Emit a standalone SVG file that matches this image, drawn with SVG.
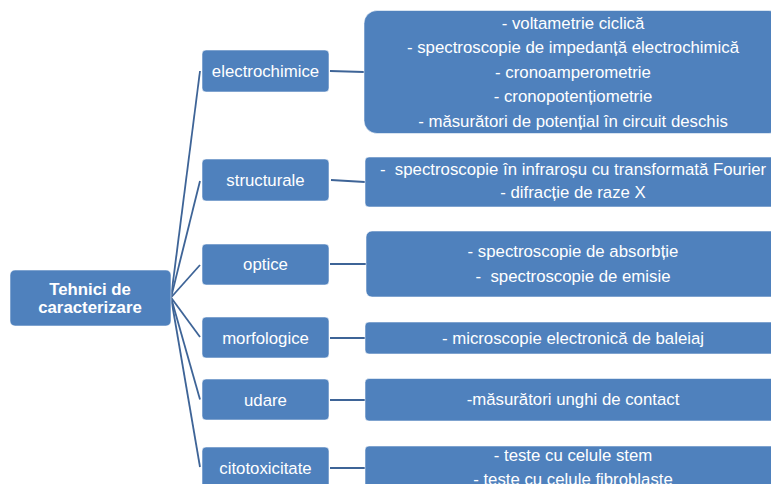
<svg xmlns="http://www.w3.org/2000/svg" width="771" height="484" viewBox="0 0 771 484">
<style>
.box{fill:#4F81BD;stroke:#FFFFFF;stroke-opacity:0.55;stroke-width:1}
.t{font-family:"Liberation Sans",Arial,sans-serif;font-size:16.8px;fill:#FFFFFF;text-anchor:middle}
.b{font-weight:bold}
.c{stroke:#3E6497;stroke-width:1.8;fill:none}
</style>
<rect width="771" height="484" fill="#FFFFFF"/>
<g id="connectors">
<path class="c" d="M171,297.5 L200,71"/>
<path class="c" d="M171,297.5 L200,181"/>
<path class="c" d="M171,297.5 L200,265"/>
<path class="c" d="M171,297.5 L200,337"/>
<path class="c" d="M171,297.5 L200,399.5"/>
<path class="c" d="M171,297.5 L200,467"/>
<path class="c" d="M330,71 L364,72"/>
<path class="c" d="M331,180 L365,182"/>
<path class="c" d="M330,264 L366,264"/>
<path class="c" d="M330,338 L365,338"/>
<path class="c" d="M330,400 L365,400"/>
<path class="c" d="M330,468 L365,468"/>
</g>
<g id="root">
<rect class="box" x="10" y="270" width="161" height="56" rx="5"/>
<text class="t b" x="90" y="295">Tehnici de</text>
<text class="t b" x="90" y="312.5">caracterizare</text>
</g>
<g id="electrochimice">
<rect class="box" x="202" y="50" width="127" height="42" rx="4"/>
<text class="t" x="265.5" y="76.5">electrochimice</text>
</g>
<g id="structurale">
<rect class="box" x="202" y="159" width="127" height="42" rx="4"/>
<text class="t" x="265.5" y="186">structurale</text>
</g>
<g id="optice">
<rect class="box" x="202" y="244" width="127" height="41" rx="4"/>
<text class="t" x="265.5" y="270">optice</text>
</g>
<g id="morfologice">
<rect class="box" x="202" y="317" width="127" height="41" rx="4"/>
<text class="t" x="265.5" y="343.5">morfologice</text>
</g>
<g id="udare">
<rect class="box" x="202" y="379" width="127" height="41" rx="4"/>
<text class="t" x="265.5" y="405.5">udare</text>
</g>
<g id="citotoxicitate">
<rect class="box" x="202" y="447" width="127" height="42" rx="4"/>
<text class="t" x="265.5" y="473.5">citotoxicitate</text>
</g>
<g id="electrochimice-detalii">
<rect class="box" x="364" y="10.5" width="418" height="123" rx="13"/>
<text class="t" x="573" y="28.5">- voltametrie ciclică</text>
<text class="t" x="573" y="53">- spectroscopie de impedanță electrochimică</text>
<text class="t" x="573" y="77.5">- cronoamperometrie</text>
<text class="t" x="573" y="102">- cronopotențiometrie</text>
<text class="t" x="573" y="126.5">- măsurători de potențial în circuit deschis</text>
</g>
<g id="structurale-detalii">
<rect class="box" x="365" y="157" width="417" height="50" rx="4"/>
<text class="t" x="573" y="175" xml:space="preserve">-  spectroscopie în infraroșu cu transformată Fourier</text>
<text class="t" x="573" y="198">- difracție de raze X</text>
</g>
<g id="optice-detalii">
<rect class="box" x="366" y="231" width="416" height="66" rx="6"/>
<text class="t" x="573" y="257" xml:space="preserve">- spectroscopie de absorbție</text>
<text class="t" x="573" y="282" xml:space="preserve">-  spectroscopie de emisie</text>
</g>
<g id="morfologice-detalii">
<rect class="box" x="365" y="322" width="417" height="32" rx="4"/>
<text class="t" x="573" y="343.5">- microscopie electronică de baleiaj</text>
</g>
<g id="udare-detalii">
<rect class="box" x="365" y="378.5" width="417" height="42.5" rx="4"/>
<text class="t" x="573" y="405">-măsurători unghi de contact</text>
</g>
<g id="citotoxicitate-detalii">
<rect class="box" x="365" y="446" width="417" height="46" rx="4"/>
<text class="t" x="573" y="461">- teste cu celule stem</text>
<text class="t" x="573" y="485">- teste cu celule fibroblaste</text>
</g>
</svg>
